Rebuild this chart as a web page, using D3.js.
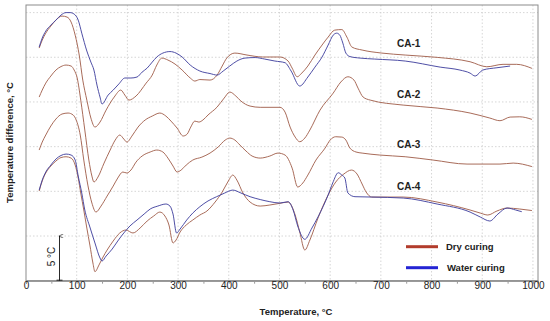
<!DOCTYPE html>
<html>
<head>
<meta charset="utf-8">
<script src="https://cdn.jsdelivr.net/npm/d3@7"></script>
<style>
  body { margin: 0; background: #fff; }
  text { font-family: "Liberation Sans", Arial, sans-serif; fill: #222; }
</style>
</head>
<body>
<svg id="chart" width="550" height="321"></svg>
<script>
// DTA curves: [temperature, temperature difference] in degC.
// the y values only carry the vertical offsets between samples, 5 degC per grid step.
let ca1Dry = [
  [26, 26.03], [32, 26.92], [39, 27.70], [49, 28.49], [59, 29.16], [71, 29.61], [81, 29.50],
  [89, 28.94], [97, 27.48], [105, 25.25], [112, 22.45], [120, 20.21], [128, 18.20], [136, 17.19],
  [146, 17.75], [158, 19.09], [174, 20.55], [187, 21.33], [195, 20.77], [203, 20.21], [217, 20.66],
  [237, 22.11], [249, 23.01], [258, 24.13], [268, 24.91], [280, 24.69], [294, 24.24], [308, 23.57],
  [324, 22.68], [333, 22.34], [343, 22.51], [363, 22.45], [377, 23.01], [387, 24.02], [396, 24.91],
  [412, 25.47], [436, 25.25], [467, 25.03], [501, 25.03], [517, 24.58], [525, 23.79], [535, 22.82],
  [544, 23.23], [556, 24.02], [570, 25.25], [584, 26.37], [596, 27.26], [609, 28.04], [623, 28.10],
  [633, 27.26], [643, 26.14], [663, 25.81], [702, 25.47], [748, 25.25], [811, 24.99], [876, 24.50],
  [909, 23.94], [941, 24.21], [968, 24.21], [998, 23.76]
];
let ca1Water = [
  [26, 26.14], [32, 27.15], [39, 27.93], [49, 28.60], [59, 29.16], [69, 29.72], [79, 30.00],
  [87, 30.00], [95, 29.83], [103, 29.16], [110, 27.70], [120, 25.70], [128, 24.46], [134, 23.57],
  [140, 21.89], [146, 20.55], [150, 19.77], [162, 20.77], [172, 21.33], [183, 22.00], [195, 22.68],
  [207, 22.68], [219, 22.79], [229, 23.34], [239, 23.79], [249, 24.46], [258, 25.03], [270, 25.47],
  [284, 25.64], [296, 25.47], [308, 25.03], [324, 24.13], [343, 23.46], [363, 23.18], [377, 23.01],
  [389, 23.46], [402, 24.02], [416, 24.58], [432, 24.91], [452, 24.97], [471, 24.80], [491, 24.58],
  [511, 24.39], [523, 23.46], [540, 21.78], [556, 22.79], [570, 23.90], [584, 25.03], [596, 26.37],
  [606, 27.48], [613, 27.70], [619, 27.48], [625, 26.59], [631, 25.47], [639, 25.08], [659, 24.91],
  [688, 24.80], [748, 24.58], [817, 23.90], [856, 23.57], [876, 23.23], [886, 22.90], [901, 23.57],
  [929, 23.83], [955, 24.02]
];
let ca2Dry = [
  [26, 20.55], [32, 21.33], [39, 22.11], [49, 22.90], [59, 23.57], [69, 23.96], [79, 24.13],
  [89, 24.02], [95, 23.57], [101, 22.68], [108, 20.21], [116, 16.86], [124, 13.50], [130, 11.71],
  [134, 11.04], [142, 11.60], [154, 13.16], [166, 14.62], [176, 15.74], [185, 16.30], [193, 15.85],
  [199, 15.51], [209, 16.19], [221, 17.19], [235, 17.98], [249, 18.42], [264, 18.76], [276, 18.42],
  [286, 17.86], [298, 17.08], [310, 16.19], [318, 16.41], [325, 17.19], [333, 17.86], [341, 17.75],
  [349, 17.98], [359, 18.54], [377, 19.43], [391, 20.44], [402, 21.11], [414, 20.66], [424, 20.10],
  [442, 19.54], [462, 19.40], [501, 19.40], [511, 18.87], [521, 17.19], [531, 16.07], [540, 15.55],
  [550, 15.96], [560, 16.86], [580, 19.09], [606, 20.99], [621, 22.23], [635, 22.82], [647, 22.45],
  [655, 21.55], [665, 20.55], [679, 20.21], [744, 19.65], [811, 19.32], [876, 18.76], [915, 18.20],
  [935, 17.90], [955, 18.31], [974, 18.34], [998, 18.05]
];
let ca3Dry = [
  [26, 14.62], [32, 15.51], [39, 16.30], [49, 17.31], [59, 18.09], [71, 18.65], [83, 18.76],
  [93, 18.54], [99, 17.98], [107, 16.30], [114, 13.50], [122, 10.70], [130, 8.69], [138, 7.68],
  [148, 8.35], [160, 9.47], [172, 10.59], [181, 11.49], [191, 12.16], [199, 12.05], [207, 12.38],
  [217, 13.27], [229, 13.95], [245, 14.40], [258, 14.62], [270, 14.40], [280, 13.72], [290, 12.83],
  [298, 12.16], [306, 12.38], [316, 12.94], [329, 13.50], [347, 13.83], [363, 14.28], [379, 14.96],
  [393, 15.74], [402, 15.96], [412, 15.74], [422, 15.18], [434, 14.51], [446, 13.95], [462, 13.72],
  [481, 13.95], [497, 14.28], [511, 14.06], [525, 12.60], [536, 10.48], [546, 10.93], [556, 11.82],
  [572, 13.50], [590, 14.84], [600, 15.74], [611, 16.11], [623, 16.07], [631, 15.74], [639, 14.84],
  [651, 14.40], [663, 14.28], [698, 14.06], [748, 13.87], [803, 13.50], [870, 13.05], [935, 13.05],
  [961, 13.16], [998, 12.77]
];
let ca4Dry = [
  [26, 10.03], [32, 11.15], [39, 12.05], [49, 12.83], [59, 13.39], [69, 13.78], [79, 13.87],
  [89, 13.72], [97, 12.94], [103, 11.49], [108, 9.81], [114, 7.91], [120, 5.89], [126, 3.99],
  [132, 1.98], [136, 1.01], [144, 1.76], [152, 2.65], [160, 3.43], [172, 4.44], [185, 5.34],
  [197, 5.67], [211, 5.34], [225, 5.89], [239, 6.68], [252, 7.24], [264, 7.68], [274, 7.24],
  [282, 6.23], [290, 4.22], [296, 4.55], [304, 5.45], [316, 6.23], [329, 6.79], [343, 7.35],
  [357, 7.80], [373, 8.80], [387, 9.92], [398, 11.04], [408, 11.82], [416, 11.26], [428, 9.81],
  [442, 8.80], [462, 8.35], [481, 8.47], [501, 8.66], [517, 8.80], [531, 7.35], [540, 5.45],
  [550, 3.43], [560, 4.55], [576, 7.01], [596, 9.59], [611, 11.04], [627, 11.94], [642, 12.38],
  [653, 11.94], [663, 10.82], [671, 9.92], [682, 9.36], [744, 9.36], [811, 8.80], [876, 7.91],
  [896, 7.57], [911, 7.35], [929, 7.80], [949, 8.13], [974, 8.02], [998, 7.85]
];
let ca4Water = [
  [26, 10.14], [32, 11.26], [39, 12.16], [49, 12.94], [59, 13.61], [69, 14.01], [79, 14.17],
  [89, 14.06], [97, 13.50], [103, 11.71], [110, 9.81], [116, 7.91], [126, 6.01], [136, 4.22],
  [146, 2.54], [150, 2.20], [158, 2.76], [170, 3.54], [181, 4.44], [193, 5.34], [205, 6.12],
  [219, 6.79], [233, 7.46], [245, 8.02], [260, 8.35], [276, 8.58], [284, 8.35], [290, 7.46],
  [297, 5.34], [304, 5.78], [317, 6.79], [329, 7.57], [343, 8.28], [359, 8.92], [376, 9.40],
  [392, 9.81], [408, 10.14], [424, 9.81], [442, 9.40], [462, 9.08], [481, 8.84], [501, 8.69],
  [517, 8.84], [527, 7.91], [536, 6.12], [550, 4.63], [564, 5.89], [576, 7.13], [596, 9.59],
  [605, 10.93], [616, 12.08], [623, 11.82], [629, 11.49], [635, 9.81], [649, 9.40], [682, 9.36],
  [744, 9.25], [811, 8.58], [876, 7.68], [896, 7.13], [915, 6.68], [931, 7.46], [949, 8.13],
  [966, 7.91], [978, 7.72]
];

let xTicks = [0, 100, 200, 300, 400, 500, 600, 700, 800, 900, 1000];
let yGrid = [5, 10, 15, 20, 25, 30];
let sampleNames = ['CA-1', 'CA-2', 'CA-3', 'CA-4'];
let legendNames = ['Dry curing', 'Water curing'];

let dryColor = '#a36350';
let waterColor = '#4444a0';

let svg = d3.select('#chart');

// plot box, in pixels
let plotLeft = 26, plotRight = 538, plotTop = 5, plotBottom = 280.7;

let x = d3.scaleLinear().domain([0, 1010]).range([plotLeft, plotRight]);
let y = d3.scaleLinear().domain([0, 30.85]).range([plotBottom, plotTop]);

// dotted grid
let grid = svg.append('g').attr('stroke', '#cccccc').attr('stroke-width', 0.8)
    .attr('stroke-dasharray', '1.5,2');
grid.selectAll('line.v').data(xTicks.filter((t) => t > 0)).enter().append('line')
    .attr('x1', (d) => x(d)).attr('x2', (d) => x(d))
    .attr('y1', plotTop).attr('y2', plotBottom);
grid.selectAll('line.h').data(yGrid).enter().append('line')
    .attr('x1', plotLeft).attr('x2', plotRight)
    .attr('y1', (d) => y(d)).attr('y2', (d) => y(d));

// frame
svg.append('rect')
    .attr('x', plotLeft).attr('y', plotTop)
    .attr('width', plotRight - plotLeft).attr('height', plotBottom - plotTop)
    .attr('fill', 'none').attr('stroke', '#8c8c8c').attr('stroke-width', 1);

// x axis, minor ticks every 50
let xAxis = d3.axisBottom(x).tickValues(d3.range(0, 1001, 50))
    .tickSize(3).tickFormat((d) => (d % 100 === 0 ? d : ''));
let axisG = svg.append('g').attr('transform', `translate(0,${plotBottom})`).call(xAxis);
axisG.select('.domain').attr('stroke', '#777');
axisG.selectAll('.tick line').attr('stroke', '#999');
axisG.selectAll('.tick text')
    .attr('dy', '0.2em')
    .style('font-size', '10px')
    .style('font-family', '"Liberation Sans", Arial, sans-serif')
    .attr('fill', '#333');

// curves
let line = d3.line()
    .x((d) => x(d[0]))
    .y((d) => y(d[1]))
    .curve(d3.curveMonotoneX);

let series = [
  {data: ca1Dry, color: dryColor},
  {data: ca2Dry, color: dryColor},
  {data: ca3Dry, color: dryColor},
  {data: ca4Dry, color: dryColor},
  {data: ca1Water, color: waterColor},
  {data: ca4Water, color: waterColor},
];
svg.append('g').selectAll('path').data(series).enter().append('path')
    .attr('d', (d) => line(d.data))
    .attr('fill', 'none')
    .attr('stroke', (d) => d.color)
    .attr('stroke-width', 0.95);

// sample labels
let labelLevels = [26.55, 20.85, 15.26, 10.5];
svg.append('g').selectAll('text').data(sampleNames).enter().append('text')
    .attr('x', x(755))
    .attr('y', (d, i) => y(labelLevels[i]))
    .attr('dy', '0.35em')
    .attr('text-anchor', 'middle')
    .style('font-size', '10px')
    .style('font-weight', 'bold')
    .text((d) => d);

// legend
let legend = svg.append('g');
legendNames.forEach((name, i) => {
  let ly = 246.7 + i * 21;
  legend.append('line')
      .attr('x1', 406).attr('x2', 438)
      .attr('y1', ly).attr('y2', ly)
      .attr('stroke', i === 0 ? '#b23c2c' : '#2424d4')
      .attr('stroke-width', 3);
  legend.append('text')
      .attr('x', 446 + i)
      .attr('y', ly)
      .attr('dy', '0.35em')
      .style('font-size', '9.5px')
      .style('font-weight', 'bold')
      .text(name);
});

// 5 degC scale arrow
let arrowX = 59.5;
svg.append('defs').append('marker')
    .attr('id', 'head')
    .attr('viewBox', '0 0 10 10')
    .attr('refX', 5).attr('refY', 1)
    .attr('markerWidth', 5).attr('markerHeight', 6)
    .attr('orient', 'auto-start-reverse')
    .append('path').attr('d', 'M0,10L5,0L10,10').attr('fill', 'none').attr('stroke', '#111')
    .attr('stroke-width', 1.4);
svg.append('line')
    .attr('x1', arrowX).attr('x2', arrowX)
    .attr('y1', y(0)).attr('y2', y(5))
    .attr('stroke', '#111').attr('stroke-width', 0.9)
    .attr('marker-end', 'url(#head)');
svg.append('line')
    .attr('x1', arrowX - 3).attr('x2', arrowX + 3)
    .attr('y1', y(0) - 0.5).attr('y2', y(0) - 0.5)
    .attr('stroke', '#111').attr('stroke-width', 0.9);
svg.append('text')
    .attr('transform', `translate(${arrowX - 5},${y(2.7)}) rotate(-90)`)
    .attr('text-anchor', 'middle')
    .style('font-size', '10px')
    .text('5 \u00B0C');

// axis titles
svg.append('text')
    .attr('x', 296).attr('y', 315)
    .attr('text-anchor', 'middle')
    .style('font-size', '9.5px')
    .style('font-weight', 'bold')
    .text('Temperature, \u00B0C');
svg.append('text')
    .attr('transform', `translate(13,142.5) rotate(-90)`)
    .attr('text-anchor', 'middle')
    .style('font-size', '9.5px')
    .style('font-weight', 'bold')
    .text('Temperature difference, \u00B0C');
</script>
</body>
</html>
